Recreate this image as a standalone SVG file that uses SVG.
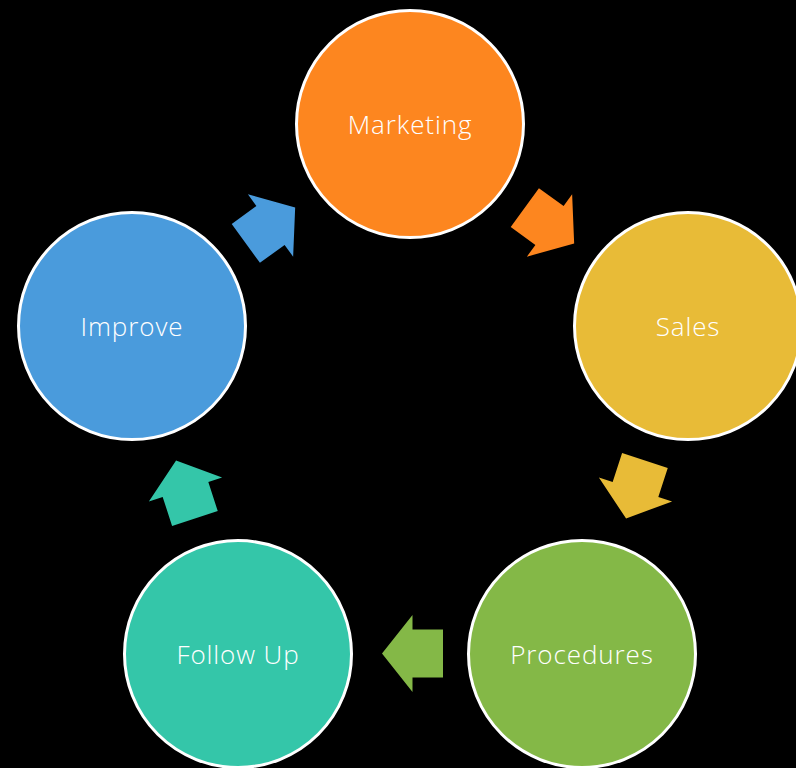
<svg xmlns="http://www.w3.org/2000/svg" width="796" height="768" viewBox="0 0 796 768">
<style>
.node circle{stroke:#fff;stroke-width:3}
.node text{font-family:"Open Sans","Noto Sans","Liberation Sans",sans-serif;font-weight:300;font-size:26px;letter-spacing:0.9px;fill:#fff;text-anchor:middle}
</style>
<defs>
<polygon id="arr" points="-30.5,-24 0,-24 0,-38.5 30.5,0 0,38.5 0,24 -30.5,24"/>
</defs>
<rect width="796" height="768" fill="#000"/>
<g id="connectors">
<use href="#arr" fill="#FD861F" transform="translate(549.5,225.5) rotate(36)"/>
<use href="#arr" fill="#E8BB37" transform="translate(635.5,489.5) rotate(108)"/>
<use href="#arr" fill="#84B847" transform="translate(412.5,653.5) rotate(180)"/>
<use href="#arr" fill="#34C6A9" transform="translate(185.5,489.5) rotate(252)"/>
<use href="#arr" fill="#4A9BDC" transform="translate(270.5,225.5) rotate(324)"/>
</g>
<g id="marketing" class="node"><circle cx="410" cy="124" r="113.5" fill="#FD861F"/><text x="410" y="134">Marketing</text></g>
<g id="sales" class="node"><circle cx="688" cy="326" r="113.5" fill="#E8BB37"/><text x="688" y="336">Sales</text></g>
<g id="procedures" class="node"><circle cx="582" cy="654" r="113.5" fill="#84B847"/><text x="582" y="664">Procedures</text></g>
<g id="followup" class="node"><circle cx="238" cy="654" r="113.5" fill="#34C6A9"/><text x="238" y="664">Follow Up</text></g>
<g id="improve" class="node"><circle cx="132" cy="326" r="113.5" fill="#4A9BDC"/><text x="132" y="336">Improve</text></g>
</svg>
